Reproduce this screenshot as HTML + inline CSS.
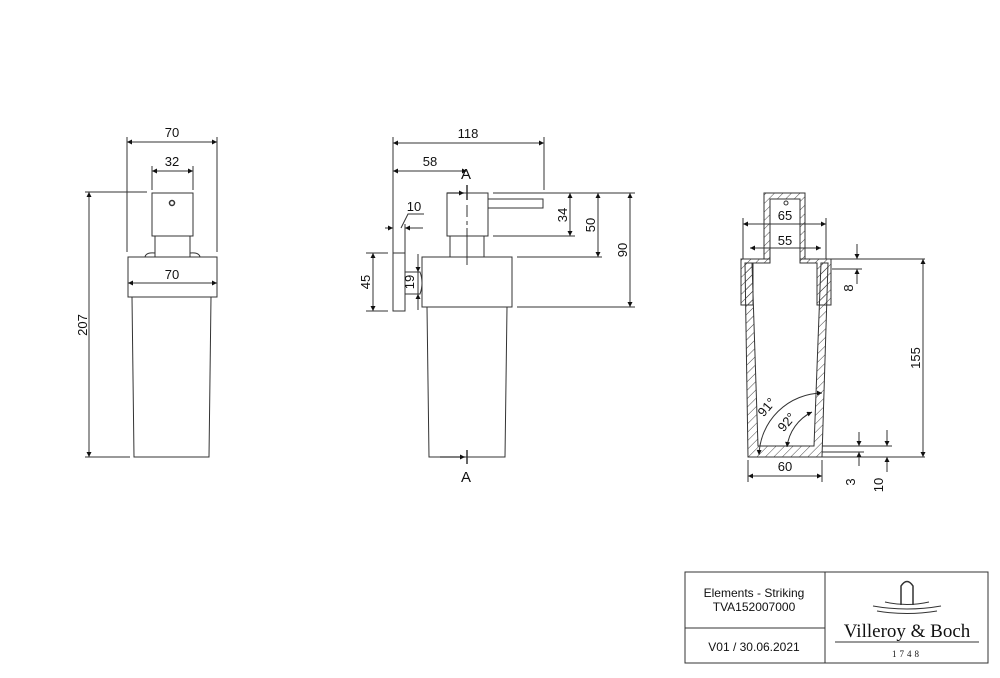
<!DOCTYPE html>
<html><head><meta charset="utf-8"><style>
html,body{margin:0;padding:0;background:#fff;}
svg{display:block;font-family:"Liberation Sans",sans-serif;}
</style></head><body>
<svg width="1000" height="678" viewBox="0 0 1000 678" xmlns="http://www.w3.org/2000/svg">
<defs>
<marker id="a" viewBox="0 0 10 10" refX="10" refY="5" markerWidth="11" markerHeight="5" orient="auto-start-reverse" markerUnits="userSpaceOnUse"><path d="M0,0L10,5L0,10z" fill="#111"/></marker>
<pattern id="h" width="6" height="6" patternUnits="userSpaceOnUse" patternTransform="rotate(45)"><line x1="0" y1="0" x2="0" y2="6" stroke="#333" stroke-width="0.9"/></pattern>
</defs>
<g stroke="#333" stroke-width="1" fill="none">
<!-- LEFT VIEW -->
<line x1="127" y1="137" x2="127" y2="252"/><line x1="217" y1="137" x2="217" y2="252"/>
<line x1="127" y1="142" x2="217" y2="142" marker-start="url(#a)" marker-end="url(#a)"/>
<line x1="152" y1="166" x2="152" y2="190"/><line x1="193" y1="166" x2="193" y2="190"/>
<line x1="152" y1="171" x2="193" y2="171" marker-start="url(#a)" marker-end="url(#a)"/>
<rect x="152" y="193" width="41" height="43"/>
<circle cx="172" cy="203" r="2.5" stroke-width="1.5"/>
<rect x="155" y="236" width="35" height="21"/>
<path d="M145,257 Q146,252 155,253 M190,253 Q199,252 200,257"/>
<rect x="128" y="257" width="89" height="40"/>
<line x1="128" y1="283" x2="217" y2="283" marker-start="url(#a)" marker-end="url(#a)"/>
<path d="M132,297 L134,457 L209,457 L211,297"/>
<line x1="85" y1="192" x2="147" y2="192"/><line x1="85" y1="457" x2="130" y2="457"/>
<line x1="89" y1="192" x2="89" y2="457" marker-start="url(#a)" marker-end="url(#a)"/>
<!-- MIDDLE VIEW -->
<line x1="393" y1="137" x2="393" y2="253"/>
<line x1="544" y1="137" x2="544" y2="190"/>
<line x1="393" y1="143" x2="544" y2="143" marker-start="url(#a)" marker-end="url(#a)"/>
<line x1="393" y1="171" x2="467" y2="171" marker-start="url(#a)" marker-end="url(#a)"/>
<rect x="447" y="193" width="41" height="43"/>
<rect x="488" y="199" width="55" height="9"/>
<rect x="450" y="236" width="34" height="21"/>
<rect x="422" y="257" width="90" height="50"/>
<path d="M427,307 L429,457 L505,457 L507,307"/>
<line x1="467" y1="185" x2="467" y2="200" stroke-width="1.5"/>
<line x1="467" y1="205" x2="467" y2="225" stroke-dasharray="12,4"/>
<line x1="467" y1="228" x2="467" y2="265"/>
<line x1="447" y1="193" x2="464" y2="193" marker-end="url(#a)" stroke-width="1.2"/>
<line x1="440" y1="457" x2="465" y2="457" marker-end="url(#a)" stroke-width="1.2"/>
<line x1="467" y1="450" x2="467" y2="464" stroke-width="1.5"/>
<rect x="393" y="253" width="12" height="58"/>
<path d="M405,272 L420,272 Q424,283 420,294 L405,294"/>
<line x1="385" y1="228" x2="393" y2="228" marker-end="url(#a)"/>
<line x1="423" y1="228" x2="405" y2="228" marker-end="url(#a)"/>
<line x1="405" y1="224" x2="405" y2="253"/>
<path d="M401,228 L408,214 L424,214"/>
<line x1="366" y1="253" x2="388" y2="253"/><line x1="366" y1="311" x2="388" y2="311"/>
<line x1="373" y1="253" x2="373" y2="311" marker-start="url(#a)" marker-end="url(#a)"/>
<line x1="418" y1="254" x2="418" y2="310"/>
<line x1="418" y1="262" x2="418" y2="272" marker-end="url(#a)"/>
<line x1="418" y1="304" x2="418" y2="294" marker-end="url(#a)"/>
<line x1="493" y1="193" x2="635" y2="193"/>
<line x1="493" y1="236" x2="575" y2="236"/>
<line x1="517" y1="257" x2="602" y2="257"/>
<line x1="517" y1="307" x2="635" y2="307"/>
<line x1="570" y1="193" x2="570" y2="236" marker-start="url(#a)" marker-end="url(#a)"/>
<line x1="598" y1="193" x2="598" y2="257" marker-start="url(#a)" marker-end="url(#a)"/>
<line x1="630" y1="193" x2="630" y2="307" marker-start="url(#a)" marker-end="url(#a)"/>
<!-- RIGHT SECTION VIEW -->
<path d="M764,259 L764,193 L805,193 L805,259 L800,259 L800,199 L770,199 L770,259 Z" fill="url(#h)"/>
<circle cx="786" cy="203" r="2"/>
<path d="M741,259 L770,259 L770,263 L753,263 L753,305 L741,305 Z" fill="url(#h)"/>
<path d="M831,259 L800,259 L800,263 L817,263 L817,305 L831,305 Z" fill="url(#h)"/>
<path d="M745,263 L752,263 L758,446 L814,446 L821,263 L828,263 L822,457 L748,457 Z" fill="url(#h)"/>
<line x1="743" y1="218" x2="743" y2="259"/><line x1="826" y1="218" x2="826" y2="259"/>
<line x1="743" y1="224" x2="826" y2="224" marker-start="url(#a)" marker-end="url(#a)"/>
<line x1="750" y1="248" x2="821" y2="248" marker-start="url(#a)" marker-end="url(#a)"/>
<line x1="831" y1="259" x2="925" y2="259"/>
<line x1="832" y1="269" x2="862" y2="269"/>
<line x1="857" y1="244" x2="857" y2="259" marker-end="url(#a)"/>
<line x1="857" y1="284" x2="857" y2="269" marker-end="url(#a)"/>
<line x1="923" y1="259" x2="923" y2="457" marker-start="url(#a)" marker-end="url(#a)"/>
<line x1="822" y1="446" x2="892" y2="446"/>
<line x1="822" y1="452" x2="864" y2="452"/>
<line x1="748" y1="457" x2="925" y2="457"/>
<line x1="859" y1="432" x2="859" y2="446" marker-end="url(#a)"/>
<line x1="859" y1="466" x2="859" y2="452" marker-end="url(#a)"/>
<line x1="887" y1="430" x2="887" y2="446" marker-end="url(#a)"/>
<line x1="887" y1="472" x2="887" y2="457" marker-end="url(#a)"/>
<line x1="748" y1="460" x2="748" y2="482"/><line x1="822" y1="460" x2="822" y2="482"/>
<line x1="748" y1="476" x2="822" y2="476" marker-start="url(#a)" marker-end="url(#a)"/>
<path d="M759,455 A64,64 0 0 1 822,393" marker-start="url(#a)" marker-end="url(#a)"/>
<path d="M787,447 A45,45 0 0 1 812,412" marker-start="url(#a)" marker-end="url(#a)"/>
<!-- TITLE BLOCK -->
<rect x="685" y="572" width="303" height="91"/>
<line x1="825" y1="572" x2="825" y2="663"/>
<line x1="685" y1="628" x2="825" y2="628"/>
<path d="M901,605 L901,586 Q907,577 913,586 L913,605" stroke-width="1.5"/>
<path d="M873,606 Q907,612 941,606 M877,611 Q907,616 937,611 M885,602 Q907,607 929,602" stroke-width="1"/>
<line x1="835" y1="642" x2="979" y2="642"/>
</g>
<g fill="#111" font-size="13" text-anchor="middle">
<text x="172" y="137">70</text><text x="172" y="166">32</text><text x="172" y="279">70</text>
<text transform="translate(87,325) rotate(-90)">207</text>
<text x="468" y="138">118</text><text x="430" y="166">58</text>
<text x="466" y="179" font-size="15">A</text><text x="466" y="482" font-size="15">A</text>
<text x="414" y="211">10</text>
<text transform="translate(370,282) rotate(-90)">45</text>
<text transform="translate(414,282) rotate(-90)">19</text>
<text transform="translate(567,215) rotate(-90)">34</text>
<text transform="translate(595,225) rotate(-90)">50</text>
<text transform="translate(627,250) rotate(-90)">90</text>
<text x="785" y="220">65</text><text x="785" y="245">55</text>
<text transform="translate(853,288) rotate(-90)">8</text>
<text transform="translate(920,358) rotate(-90)">155</text>
<text x="785" y="471">60</text>
<text transform="translate(855,482) rotate(-90)">3</text>
<text transform="translate(883,485) rotate(-90)">10</text>
<text transform="translate(770,410) rotate(-50)">91°</text>
<text transform="translate(790,425) rotate(-50)">92°</text>
<text x="754" y="597" font-size="12">Elements - Striking</text>
<text x="754" y="611" font-size="12">TVA152007000</text>
<text x="754" y="651" font-size="12">V01 / 30.06.2021</text>
<text x="907" y="637" font-family="Liberation Serif,serif" font-size="19">Villeroy &amp; Boch</text>
<text x="907" y="657" font-family="Liberation Serif,serif" font-size="9" letter-spacing="3">1748</text>
</g>
</svg>
</body></html>
